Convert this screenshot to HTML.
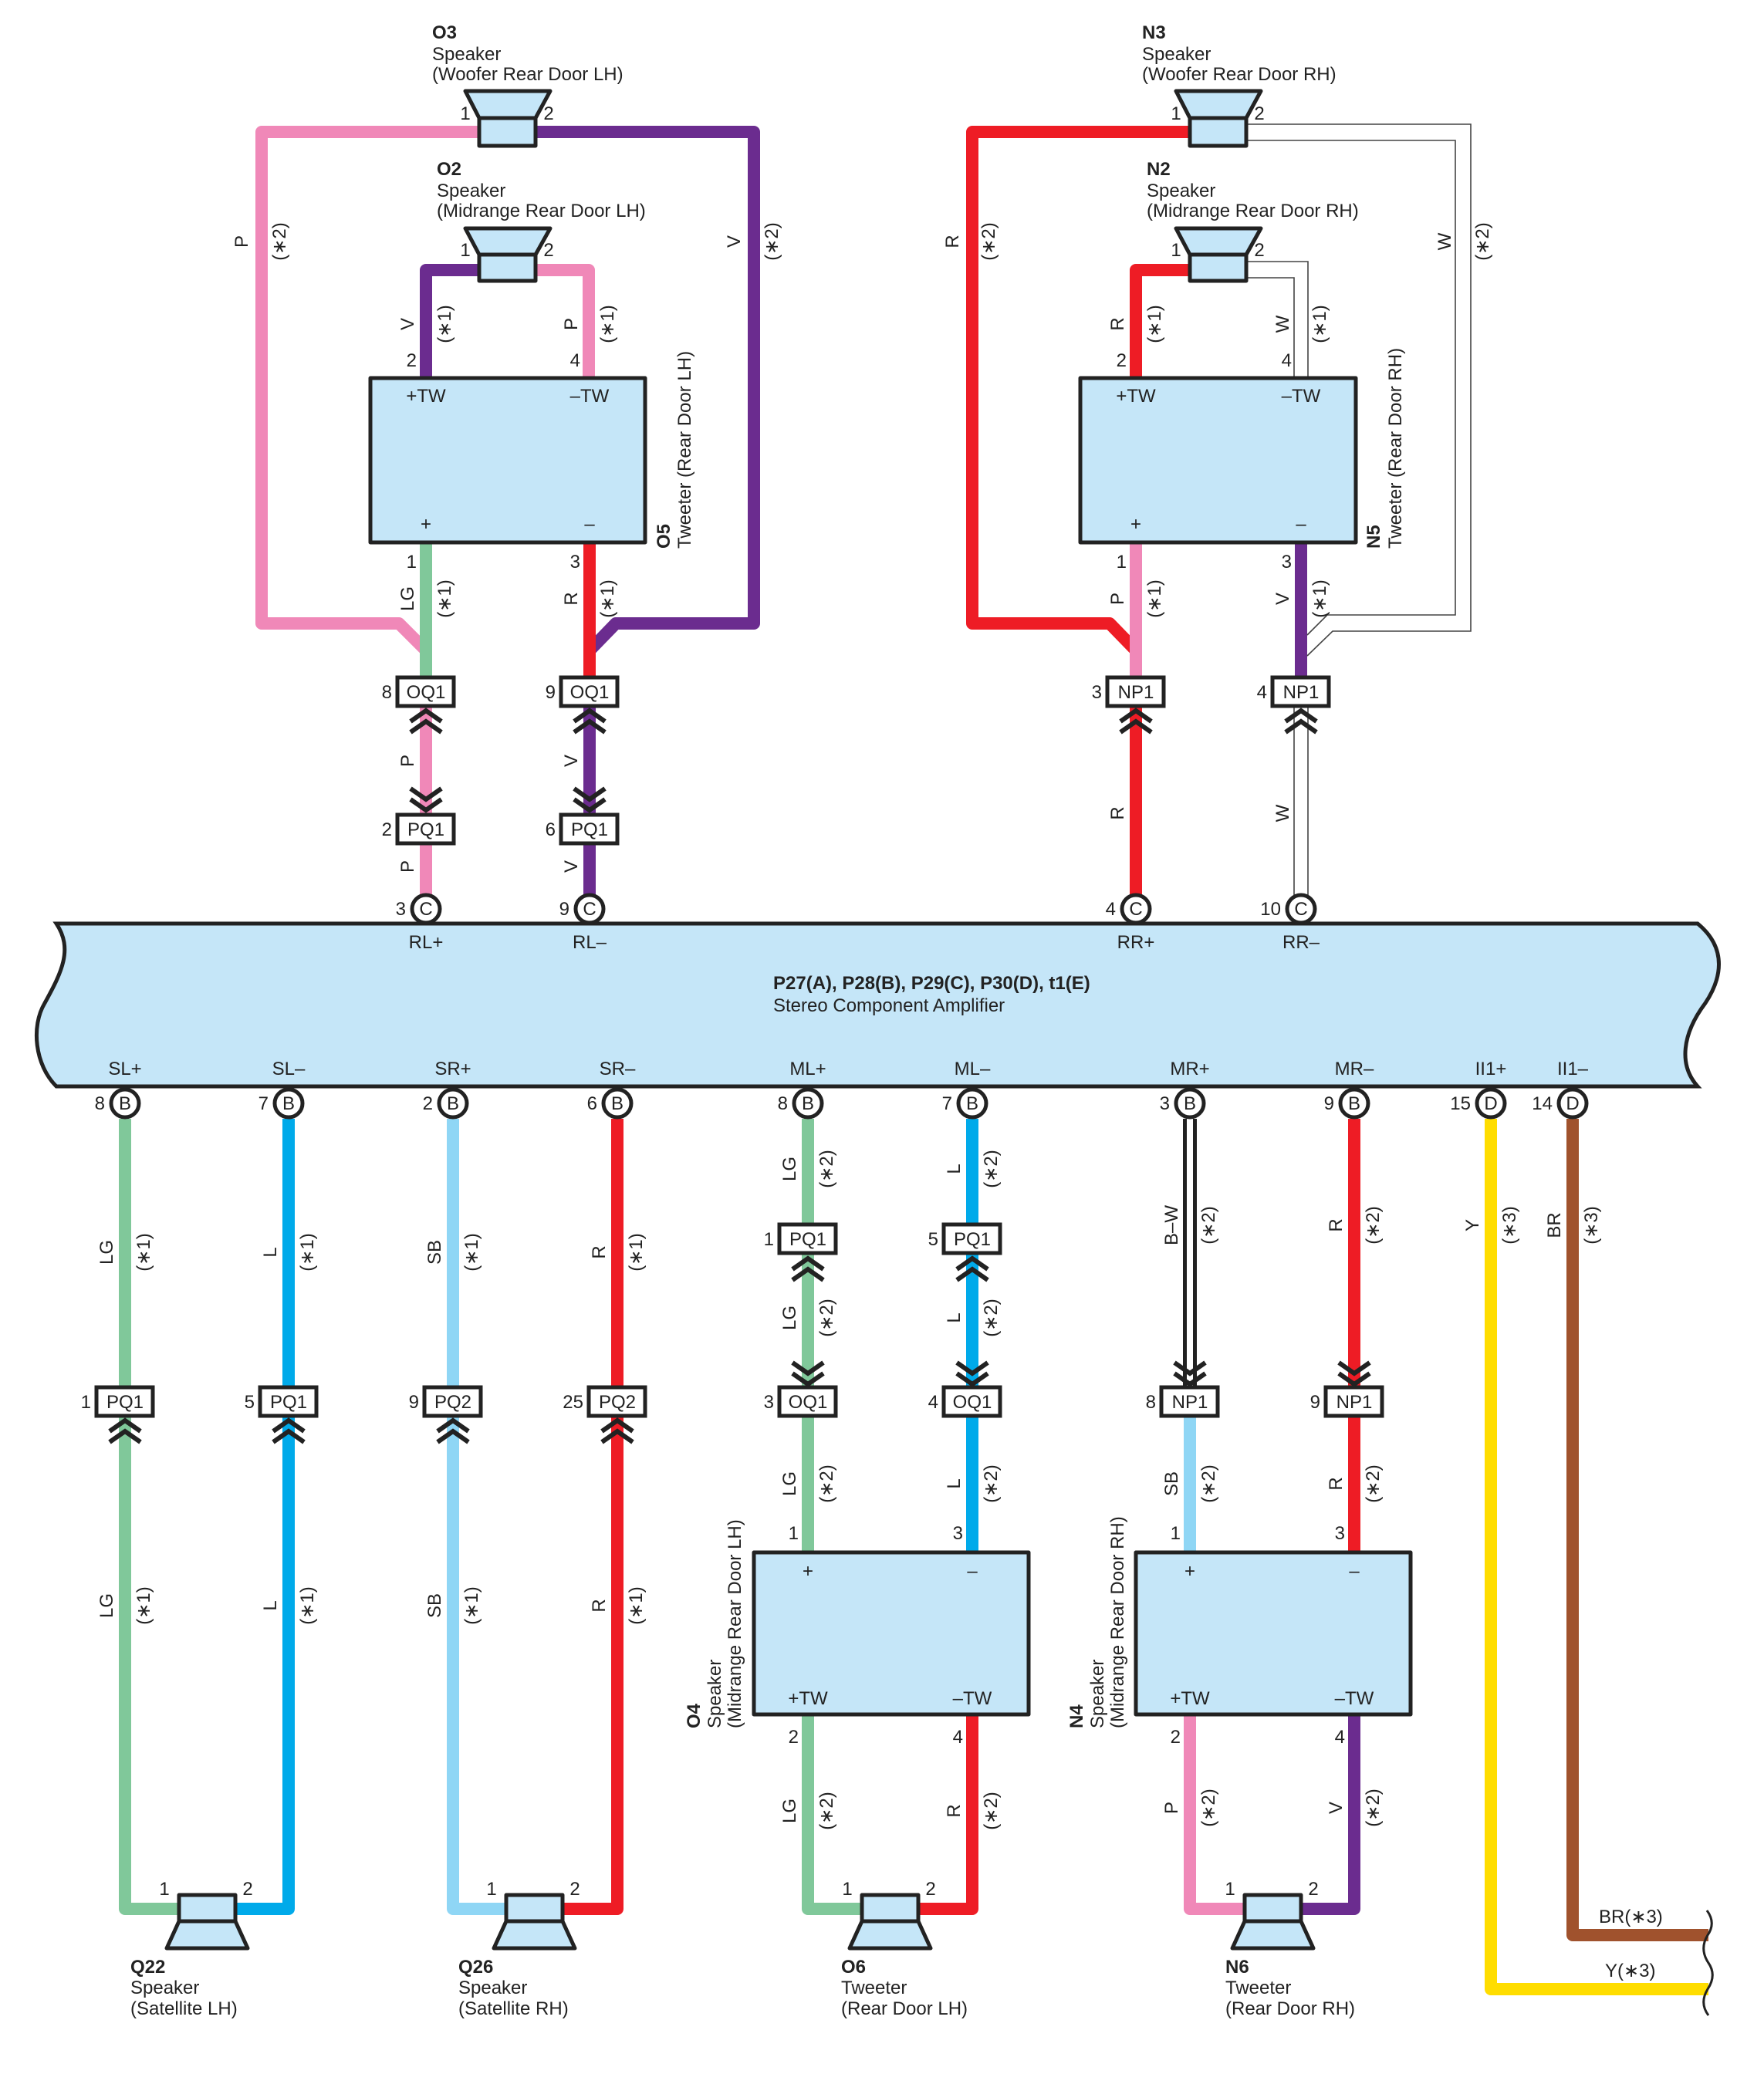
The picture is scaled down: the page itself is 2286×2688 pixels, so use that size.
<!DOCTYPE html>
<html><head><meta charset="utf-8"><style>
html,body{margin:0;padding:0;background:#fff}
svg{display:block}
text{font-family:"Liberation Sans",Arial,sans-serif;font-size:24px;fill:#222}
.b{font-weight:bold}
.m{text-anchor:middle}
.e{text-anchor:end}
.w{font-size:22px}
.bx{fill:#fff;stroke:#222;stroke-width:5}
.sp{fill:#c5e6f8;stroke:#222;stroke-width:5;stroke-linejoin:round}
.ch{fill:none;stroke:#222;stroke-width:6}
.wr{fill:none;stroke-width:16;stroke-linejoin:round;stroke-linecap:butt}
.th{fill:none;stroke:#444;stroke-width:1.6}
</style></head><body>
<svg width="2286" height="2688" viewBox="0 0 2286 2688" xmlns="http://www.w3.org/2000/svg">
<!-- amplifier -->
<path d="M73,1197 H2200 C2240,1230 2230,1270 2210,1300 C2180,1340 2175,1380 2200,1408 H73 C45,1380 40,1330 58,1300 C80,1260 95,1230 73,1197 Z" fill="#c5e6f8" stroke="#222" stroke-width="5"/>
<text class="b" x="1002" y="1282">P27(A), P28(B), P29(C), P30(D), t1(E)</text>
<text x="1002" y="1311">Stereo Component Amplifier</text>
<g class="m">
<text x="552" y="1229">RL+</text><text x="764" y="1229">RL–</text><text x="1472" y="1229">RR+</text><text x="1686" y="1229">RR–</text>
<text x="162" y="1393">SL+</text><text x="374" y="1393">SL–</text><text x="587" y="1393">SR+</text><text x="800" y="1393">SR–</text>
<text x="1047" y="1393">ML+</text><text x="1260" y="1393">ML–</text><text x="1542" y="1393">MR+</text><text x="1755" y="1393">MR–</text>
<text x="1932" y="1393">II1+</text><text x="2038" y="1393">II1–</text>
</g>

<!-- top-left wires -->
<path class="wr" stroke="#f088b8" d="M621,171 H339 V808 H517 L552,843 V850"/>
<path class="wr" stroke="#6b2c8f" d="M694,171 H977 V808 H798 L764,843 V850"/>
<path class="wr" stroke="#6b2c8f" d="M621,350 H552 V490"/>
<path class="wr" stroke="#f088b8" d="M694,350 H763 V490"/>
<path class="wr" stroke="#80c89a" d="M552,703 V880"/>
<path class="wr" stroke="#ee1c25" d="M764,703 V880"/>
<path class="wr" stroke="#f088b8" d="M552,915 V1160"/>
<path class="wr" stroke="#6b2c8f" d="M764,915 V1160"/>
<!-- top-right wires -->
<path class="wr" stroke="#ee1c25" d="M1542,171 H1260 V808 H1438 L1472,843 V850"/>
<path class="wr" stroke="#ee1c25" d="M1542,350 H1472 V490"/>
<path class="wr" stroke="#f088b8" d="M1472,703 V880"/>
<path class="wr" stroke="#6b2c8f" d="M1686,703 V880"/>
<path class="wr" stroke="#ee1c25" d="M1472,915 V1160"/>
<path class="th" d="M1615,161 H1906 V818 H1727 L1694,850"/>
<path class="th" d="M1615,182 H1886 V797 H1720 L1694,823"/>
<path class="th" d="M1615,339 H1695 V490"/>
<path class="th" d="M1615,360 H1677 V490"/>
<path class="th" d="M1677,915 V1160 M1695,915 V1160"/>

<!-- bottom wires -->
<path class="wr" stroke="#80c89a" d="M162,1450 V2474 H240"/>
<path class="wr" stroke="#00aaea" d="M374,1450 V2474 H300"/>
<path class="wr" stroke="#8fd6f5" d="M587,1450 V2474 H662"/>
<path class="wr" stroke="#ee1c25" d="M800,1450 V2474 H724"/>
<path class="wr" stroke="#80c89a" d="M1047,1450 V2012 M1047,2222 V2474 H1122"/>
<path class="wr" stroke="#00aaea" d="M1260,1450 V2012"/>
<path class="wr" stroke="#ee1c25" d="M1260,2222 V2474 H1185"/>
<path style="fill:none;stroke:#222;stroke-width:18" d="M1542,1450 V1798"/>
<path style="fill:none;stroke:#fff;stroke-width:8" d="M1542,1450 V1798"/>
<path class="wr" stroke="#8fd6f5" d="M1542,1837 V2012"/>
<path class="wr" stroke="#f088b8" d="M1542,2222 V2474 H1620"/>
<path class="wr" stroke="#6b2c8f" d="M1755,2222 V2474 H1680"/>
<path class="wr" stroke="#ee1c25" d="M1755,1450 V2012"/>
<path class="wr" stroke="#ffdd00" d="M1932,1450 V2578 H2214"/>
<path class="wr" stroke="#a0522d" d="M2038,1450 V2508 H2214"/>
<path fill="none" stroke="#222" stroke-width="3" d="M2212,2476 Q2224,2492 2213,2508 Q2202,2526 2214,2544 Q2225,2560 2213,2578 Q2202,2596 2214,2612"/>
<text x="2072" y="2492">BR(∗3)</text>
<text x="2080" y="2562">Y(∗3)</text>

<!-- top speakers -->
<polygon class="sp" points="603,118 713,118 694,153 621,153"/><rect class="sp" x="621" y="153" width="73" height="36"/>
<polygon class="sp" points="603,296 713,296 694,330 621,330"/><rect class="sp" x="621" y="330" width="73" height="34"/>
<polygon class="sp" points="1524,118 1634,118 1615,153 1542,153"/><rect class="sp" x="1542" y="153" width="73" height="36"/>
<polygon class="sp" points="1524,296 1634,296 1615,330 1542,330"/><rect class="sp" x="1542" y="330" width="73" height="34"/>
<g class="m">
<text x="603" y="155">1</text><text x="711" y="155">2</text>
<text x="603" y="332">1</text><text x="711" y="332">2</text>
<text x="1524" y="155">1</text><text x="1632" y="155">2</text>
<text x="1524" y="332">1</text><text x="1632" y="332">2</text>
</g>
<text class="b" x="560" y="50">O3</text><text x="560" y="78">Speaker</text><text x="560" y="104">(Woofer Rear Door LH)</text>
<text class="b" x="566" y="227">O2</text><text x="566" y="255">Speaker</text><text x="566" y="281">(Midrange Rear Door LH)</text>
<text class="b" x="1480" y="50">N3</text><text x="1480" y="78">Speaker</text><text x="1480" y="104">(Woofer Rear Door RH)</text>
<text class="b" x="1486" y="227">N2</text><text x="1486" y="255">Speaker</text><text x="1486" y="281">(Midrange Rear Door RH)</text>

<!-- tweeter boxes top -->
<rect class="sp" x="480" y="490" width="356" height="213"/>
<rect class="sp" x="1400" y="490" width="357" height="213"/>
<g class="m">
<text x="552" y="521">+TW</text><text x="764" y="521">–TW</text><text x="552" y="687">+</text><text x="764" y="687">–</text>
<text x="1472" y="521">+TW</text><text x="1686" y="521">–TW</text><text x="1472" y="687">+</text><text x="1686" y="687">–</text>
</g>
<g class="e">
<text x="540" y="475">2</text><text x="752" y="475">4</text><text x="540" y="736">1</text><text x="752" y="736">3</text>
<text x="1460" y="475">2</text><text x="1674" y="475">4</text><text x="1460" y="736">1</text><text x="1674" y="736">3</text>
</g>
<text class="b" transform="translate(868,711) rotate(-90)">O5</text>
<text transform="translate(895,711) rotate(-90)">Tweeter (Rear Door LH)</text>
<text class="b" transform="translate(1788,711) rotate(-90)">N5</text>
<text transform="translate(1816,711) rotate(-90)">Tweeter (Rear Door RH)</text>

<!-- bottom boxes -->
<rect class="sp" x="977" y="2012" width="356" height="210"/>
<rect class="sp" x="1472" y="2012" width="356" height="210"/>
<g class="m">
<text x="1047" y="2044">+</text><text x="1260" y="2044">–</text><text x="1047" y="2209">+TW</text><text x="1260" y="2209">–TW</text>
<text x="1542" y="2044">+</text><text x="1755" y="2044">–</text><text x="1542" y="2209">+TW</text><text x="1755" y="2209">–TW</text>
</g>
<g class="e">
<text x="1035" y="1995">1</text><text x="1248" y="1995">3</text><text x="1035" y="2259">2</text><text x="1248" y="2259">4</text>
<text x="1530" y="1995">1</text><text x="1743" y="1995">3</text><text x="1530" y="2259">2</text><text x="1743" y="2259">4</text>
</g>
<text class="b" transform="translate(907,2240) rotate(-90)">O4</text>
<text transform="translate(934,2240) rotate(-90)">Speaker</text>
<text transform="translate(960,2240) rotate(-90)">(Midrange Rear Door LH)</text>
<text class="b" transform="translate(1403,2240) rotate(-90)">N4</text>
<text transform="translate(1430,2240) rotate(-90)">Speaker</text>
<text transform="translate(1456,2240) rotate(-90)">(Midrange Rear Door RH)</text>

<!-- bottom speakers -->
<rect class="sp" x="232" y="2456" width="73" height="34"/><polygon class="sp" points="232,2490 305,2490 321,2525 216,2525"/>
<rect class="sp" x="656" y="2456" width="73" height="34"/><polygon class="sp" points="656,2490 729,2490 745,2525 640,2525"/>
<rect class="sp" x="1117" y="2456" width="73" height="34"/><polygon class="sp" points="1117,2490 1190,2490 1206,2525 1101,2525"/>
<rect class="sp" x="1613" y="2456" width="73" height="34"/><polygon class="sp" points="1613,2490 1686,2490 1702,2525 1597,2525"/>
<g class="m">
<text x="213" y="2456">1</text><text x="321" y="2456">2</text>
<text x="637" y="2456">1</text><text x="745" y="2456">2</text>
<text x="1098" y="2456">1</text><text x="1206" y="2456">2</text>
<text x="1594" y="2456">1</text><text x="1702" y="2456">2</text>
</g>
<text class="b" x="169" y="2557">Q22</text><text x="169" y="2584">Speaker</text><text x="169" y="2611">(Satellite LH)</text>
<text class="b" x="594" y="2557">Q26</text><text x="594" y="2584">Speaker</text><text x="594" y="2611">(Satellite RH)</text>
<text class="b" x="1090" y="2557">O6</text><text x="1090" y="2584">Tweeter</text><text x="1090" y="2611">(Rear Door LH)</text>
<text class="b" x="1588" y="2557">N6</text><text x="1588" y="2584">Tweeter</text><text x="1588" y="2611">(Rear Door RH)</text>

<!-- connector boxes -->
<g>
<rect class="bx" x="515" y="878" width="73" height="37"/><text class="m" x="552" y="905">OQ1</text><text class="e" x="508" y="905">8</text>
<rect class="bx" x="727" y="878" width="73" height="37"/><text class="m" x="764" y="905">OQ1</text><text class="e" x="720" y="905">9</text>
<rect class="bx" x="515" y="1056" width="73" height="37"/><text class="m" x="552" y="1083">PQ1</text><text class="e" x="508" y="1083">2</text>
<rect class="bx" x="727" y="1056" width="73" height="37"/><text class="m" x="764" y="1083">PQ1</text><text class="e" x="720" y="1083">6</text>
<rect class="bx" x="1435" y="878" width="73" height="37"/><text class="m" x="1472" y="905">NP1</text><text class="e" x="1428" y="905">3</text>
<rect class="bx" x="1649" y="878" width="73" height="37"/><text class="m" x="1686" y="905">NP1</text><text class="e" x="1642" y="905">4</text>

<rect class="bx" x="125" y="1798" width="73" height="37"/><text class="m" x="162" y="1825">PQ1</text><text class="e" x="118" y="1825">1</text>
<rect class="bx" x="337" y="1798" width="73" height="37"/><text class="m" x="374" y="1825">PQ1</text><text class="e" x="330" y="1825">5</text>
<rect class="bx" x="550" y="1798" width="73" height="37"/><text class="m" x="587" y="1825">PQ2</text><text class="e" x="543" y="1825">9</text>
<rect class="bx" x="763" y="1798" width="73" height="37"/><text class="m" x="800" y="1825">PQ2</text><text class="e" x="756" y="1825">25</text>
<rect class="bx" x="1010" y="1587" width="73" height="37"/><text class="m" x="1047" y="1614">PQ1</text><text class="e" x="1003" y="1614">1</text>
<rect class="bx" x="1010" y="1798" width="73" height="37"/><text class="m" x="1047" y="1825">OQ1</text><text class="e" x="1003" y="1825">3</text>
<rect class="bx" x="1223" y="1587" width="73" height="37"/><text class="m" x="1260" y="1614">PQ1</text><text class="e" x="1216" y="1614">5</text>
<rect class="bx" x="1223" y="1798" width="73" height="37"/><text class="m" x="1260" y="1825">OQ1</text><text class="e" x="1216" y="1825">4</text>
<rect class="bx" x="1505" y="1798" width="73" height="37"/><text class="m" x="1542" y="1825">NP1</text><text class="e" x="1498" y="1825">8</text>
<rect class="bx" x="1718" y="1798" width="73" height="37"/><text class="m" x="1755" y="1825">NP1</text><text class="e" x="1711" y="1825">9</text>
</g>

<!-- chevrons up -->
<path class="ch" d="
M532,935 L552,921 L572,935 M532,949 L552,935 L572,949
M744,935 L764,921 L784,935 M744,949 L764,935 L784,949
M1452,935 L1472,921 L1492,935 M1452,949 L1472,935 L1492,949
M1666,935 L1686,921 L1706,935 M1666,949 L1686,935 L1706,949
M142,1855 L162,1841 L182,1855 M142,1869 L162,1855 L182,1869
M354,1855 L374,1841 L394,1855 M354,1869 L374,1855 L394,1869
M567,1855 L587,1841 L607,1855 M567,1869 L587,1855 L607,1869
M780,1855 L800,1841 L820,1855 M780,1869 L800,1855 L820,1869
M1027,1645 L1047,1631 L1067,1645 M1027,1659 L1047,1645 L1067,1659
M1240,1645 L1260,1631 L1280,1645 M1240,1659 L1260,1645 L1280,1659"/>
<!-- chevrons down -->
<path class="ch" d="
M532,1022 L552,1036 L572,1022 M532,1036 L552,1050 L572,1036
M744,1022 L764,1036 L784,1022 M744,1036 L764,1050 L784,1036
M1027,1766 L1047,1780 L1067,1766 M1027,1780 L1047,1794 L1067,1780
M1240,1766 L1260,1780 L1280,1766 M1240,1780 L1260,1794 L1280,1780
M1522,1766 L1542,1780 L1562,1766 M1522,1780 L1542,1794 L1562,1780
M1735,1766 L1755,1780 L1775,1766 M1735,1780 L1755,1794 L1775,1780"/>

<!-- circles -->
<g>
<circle class="bx" cx="552" cy="1178" r="18"/><text class="m" x="552" y="1186">C</text><text class="e" x="526" y="1186">3</text>
<circle class="bx" cx="764" cy="1178" r="18"/><text class="m" x="764" y="1186">C</text><text class="e" x="738" y="1186">9</text>
<circle class="bx" cx="1472" cy="1178" r="18"/><text class="m" x="1472" y="1186">C</text><text class="e" x="1446" y="1186">4</text>
<circle class="bx" cx="1686" cy="1178" r="18"/><text class="m" x="1686" y="1186">C</text><text class="e" x="1660" y="1186">10</text>
<circle class="bx" cx="162" cy="1430" r="18"/><text class="m" x="162" y="1438">B</text><text class="e" x="136" y="1438">8</text>
<circle class="bx" cx="374" cy="1430" r="18"/><text class="m" x="374" y="1438">B</text><text class="e" x="348" y="1438">7</text>
<circle class="bx" cx="587" cy="1430" r="18"/><text class="m" x="587" y="1438">B</text><text class="e" x="561" y="1438">2</text>
<circle class="bx" cx="800" cy="1430" r="18"/><text class="m" x="800" y="1438">B</text><text class="e" x="774" y="1438">6</text>
<circle class="bx" cx="1047" cy="1430" r="18"/><text class="m" x="1047" y="1438">B</text><text class="e" x="1021" y="1438">8</text>
<circle class="bx" cx="1260" cy="1430" r="18"/><text class="m" x="1260" y="1438">B</text><text class="e" x="1234" y="1438">7</text>
<circle class="bx" cx="1542" cy="1430" r="18"/><text class="m" x="1542" y="1438">B</text><text class="e" x="1516" y="1438">3</text>
<circle class="bx" cx="1755" cy="1430" r="18"/><text class="m" x="1755" y="1438">B</text><text class="e" x="1729" y="1438">9</text>
<circle class="bx" cx="1932" cy="1430" r="18"/><text class="m" x="1932" y="1438">D</text><text class="e" x="1906" y="1438">15</text>
<circle class="bx" cx="2038" cy="1430" r="18"/><text class="m" x="2038" y="1438">D</text><text class="e" x="2012" y="1438">14</text>
</g>

<!-- wire labels (rotated) -->
<g class="m w">
<text transform="translate(321,313) rotate(-90)">P</text><text transform="translate(370,313) rotate(-90)">(∗2)</text>
<text transform="translate(959,313) rotate(-90)">V</text><text transform="translate(1008,313) rotate(-90)">(∗2)</text>
<text transform="translate(536,420) rotate(-90)">V</text><text transform="translate(584,420) rotate(-90)">(∗1)</text>
<text transform="translate(748,420) rotate(-90)">P</text><text transform="translate(795,420) rotate(-90)">(∗1)</text>
<text transform="translate(536,776) rotate(-90)">LG</text><text transform="translate(584,776) rotate(-90)">(∗1)</text>
<text transform="translate(748,776) rotate(-90)">R</text><text transform="translate(795,776) rotate(-90)">(∗1)</text>
<text transform="translate(536,986) rotate(-90)">P</text><text transform="translate(748,986) rotate(-90)">V</text>
<text transform="translate(536,1123) rotate(-90)">P</text><text transform="translate(748,1123) rotate(-90)">V</text>

<text transform="translate(1242,313) rotate(-90)">R</text><text transform="translate(1289,313) rotate(-90)">(∗2)</text>
<text transform="translate(1880,313) rotate(-90)">W</text><text transform="translate(1929,313) rotate(-90)">(∗2)</text>
<text transform="translate(1456,420) rotate(-90)">R</text><text transform="translate(1504,420) rotate(-90)">(∗1)</text>
<text transform="translate(1670,420) rotate(-90)">W</text><text transform="translate(1718,420) rotate(-90)">(∗1)</text>
<text transform="translate(1456,776) rotate(-90)">P</text><text transform="translate(1504,776) rotate(-90)">(∗1)</text>
<text transform="translate(1670,776) rotate(-90)">V</text><text transform="translate(1718,776) rotate(-90)">(∗1)</text>
<text transform="translate(1456,1054) rotate(-90)">R</text><text transform="translate(1670,1054) rotate(-90)">W</text>

<text transform="translate(146,1623) rotate(-90)">LG</text><text transform="translate(194,1623) rotate(-90)">(∗1)</text>
<text transform="translate(146,2081) rotate(-90)">LG</text><text transform="translate(194,2081) rotate(-90)">(∗1)</text>
<text transform="translate(358,1623) rotate(-90)">L</text><text transform="translate(406,1623) rotate(-90)">(∗1)</text>
<text transform="translate(358,2081) rotate(-90)">L</text><text transform="translate(406,2081) rotate(-90)">(∗1)</text>
<text transform="translate(571,1623) rotate(-90)">SB</text><text transform="translate(619,1623) rotate(-90)">(∗1)</text>
<text transform="translate(571,2081) rotate(-90)">SB</text><text transform="translate(619,2081) rotate(-90)">(∗1)</text>
<text transform="translate(784,1623) rotate(-90)">R</text><text transform="translate(832,1623) rotate(-90)">(∗1)</text>
<text transform="translate(784,2081) rotate(-90)">R</text><text transform="translate(832,2081) rotate(-90)">(∗1)</text>

<text transform="translate(1031,1515) rotate(-90)">LG</text><text transform="translate(1079,1515) rotate(-90)">(∗2)</text>
<text transform="translate(1031,1708) rotate(-90)">LG</text><text transform="translate(1079,1708) rotate(-90)">(∗2)</text>
<text transform="translate(1031,1923) rotate(-90)">LG</text><text transform="translate(1079,1923) rotate(-90)">(∗2)</text>
<text transform="translate(1031,2347) rotate(-90)">LG</text><text transform="translate(1079,2347) rotate(-90)">(∗2)</text>
<text transform="translate(1244,1515) rotate(-90)">L</text><text transform="translate(1292,1515) rotate(-90)">(∗2)</text>
<text transform="translate(1244,1708) rotate(-90)">L</text><text transform="translate(1292,1708) rotate(-90)">(∗2)</text>
<text transform="translate(1244,1923) rotate(-90)">L</text><text transform="translate(1292,1923) rotate(-90)">(∗2)</text>
<text transform="translate(1244,2347) rotate(-90)">R</text><text transform="translate(1292,2347) rotate(-90)">(∗2)</text>

<text transform="translate(1526,1588) rotate(-90)">B–W</text><text transform="translate(1574,1588) rotate(-90)">(∗2)</text>
<text transform="translate(1526,1923) rotate(-90)">SB</text><text transform="translate(1574,1923) rotate(-90)">(∗2)</text>
<text transform="translate(1526,2343) rotate(-90)">P</text><text transform="translate(1574,2343) rotate(-90)">(∗2)</text>
<text transform="translate(1739,1588) rotate(-90)">R</text><text transform="translate(1787,1588) rotate(-90)">(∗2)</text>
<text transform="translate(1739,1923) rotate(-90)">R</text><text transform="translate(1787,1923) rotate(-90)">(∗2)</text>
<text transform="translate(1739,2343) rotate(-90)">V</text><text transform="translate(1787,2343) rotate(-90)">(∗2)</text>
<text transform="translate(1916,1588) rotate(-90)">Y</text><text transform="translate(1964,1588) rotate(-90)">(∗3)</text>
<text transform="translate(2022,1588) rotate(-90)">BR</text><text transform="translate(2070,1588) rotate(-90)">(∗3)</text>
</g>
</svg>
</body></html>
